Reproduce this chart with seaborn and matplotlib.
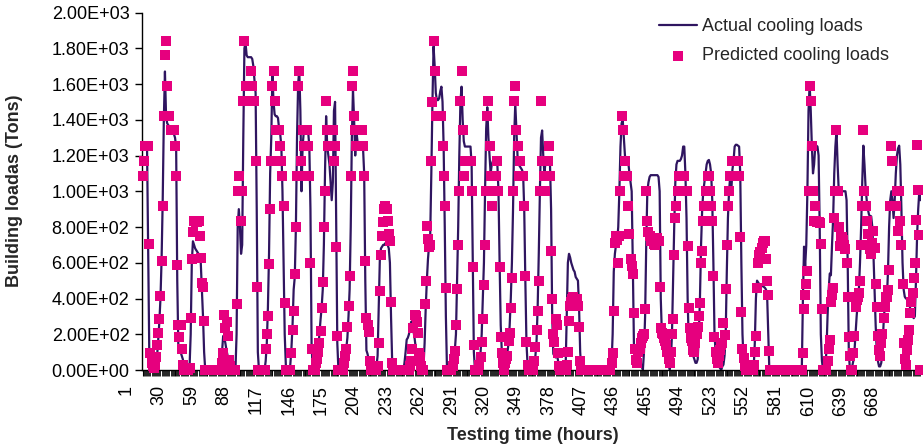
import numpy as np
import pandas as pd
import matplotlib
matplotlib.use("Agg")
import matplotlib.pyplot as plt
import matplotlib.transforms as mtransforms
from matplotlib.ticker import FuncFormatter
import seaborn as sns

N_HOURS = 696
hours = np.arange(1, N_HOURS + 1)

# (first hour, hourly values) ; hours not listed read as 0
actual_segments = [
    (1, [1240, 1250, 1250, 1250, 1250, 700, 100, 90, 60, 30, 10, 10, 40, 80, 170, 270, 400, 620, 950, 1400,
         1670, 1420, 1380, 1370, 1360, 1350, 1340, 1330, 1320, 1300, 1250, 500, 120, 110, 100, 80, 60, 20]),
    (43, [20, 200, 600, 720, 700, 680, 670, 660, 650, 640, 600, 450, 300, 100]),
    (71, [20, 100, 190, 180, 150, 110, 80, 60, 30]),
    (85, [200, 800, 900, 800, 650, 700, 1300, 1800, 1830, 1760, 1750, 1750, 1750, 1750, 1740, 1700, 1620,
          1550, 900, 100]),
    (111, [50, 150, 350, 650, 1100, 1300, 1650, 1500, 1430, 1420, 1420, 1410, 1350, 1320, 1250, 1000, 600,
           200, 30]),
    (133, [30, 120, 250, 450, 520, 800, 1300, 1600, 1680, 1450, 1000, 1250, 1330, 1340, 1340, 1330, 1330,
           1250, 900, 150]),
    (156, [20, 50, 120, 200, 280, 350, 450, 700, 1100, 1420, 1250, 1200, 1150, 1050, 950, 1050, 1450, 1500,
           800, 150]),
    (180, [10, 50, 80, 120, 180, 300, 450, 800, 1300, 1570, 1400, 1200, 1340, 1280, 1260, 1250, 1250, 1250,
           1240, 1100, 500, 110, 90, 60, 30]),
    (210, [20, 80, 350, 620, 680, 690, 700, 700, 710, 710, 700, 680, 600, 300, 50]),
    (235, [40, 100, 170, 180, 200, 240, 270, 250, 220, 180, 130, 100, 60, 30]),
    (252, [20, 150, 350, 500, 620, 700, 750, 1100, 1500, 1810, 1700, 1550, 1510, 1510, 1520, 1560, 1585,
           1500, 1250, 800, 300]),
    (278, [30, 60, 110, 200, 500, 800, 1200, 1500, 1585, 1400, 1280, 1250, 1250, 1250, 1250, 1250, 1250,
           1150, 600, 100]),
    (301, [20, 50, 100, 200, 400, 600, 1000, 1350, 1470, 1300, 1200, 1100, 1150, 1170, 1170, 1170, 1160,
           1150, 1000, 600, 250, 100, 30]),
    (325, [20, 60, 100, 150, 250, 400, 600, 900, 1300, 1490, 1350, 1200, 1150, 1140, 1130, 1120, 1100, 900,
           500, 150, 30]),
    (351, [30, 80, 160, 350, 650, 1000, 1300, 1340, 1200, 1100, 1160, 1170, 1170, 1170, 1160, 900, 300, 90,
           80, 70, 90, 60, 20]),
    (379, [20, 300, 600, 650, 630, 600, 580, 560, 550, 520, 510, 500, 350, 100]),
    (420, [30, 200, 550, 650, 700, 720, 800, 1000, 1250, 1380, 1400, 1300, 1200, 1170, 1150, 1160, 1100,
           1050, 1000, 600, 150, 80, 60, 40, 40, 50, 40, 20, 0, 100, 300, 700, 1000, 1050, 1080, 1090, 1090,
           1090, 1090, 1090, 1090, 1090, 1080, 1000, 400, 200, 180, 150, 120, 100, 60, 30]),
    (473, [50, 200, 500, 800, 1050, 1150, 1170, 1170, 1170, 1180, 1200, 1250, 1250, 1100, 850, 400, 150, 120,
           110, 100, 80, 60, 40, 40, 60, 200, 400, 700, 900, 1000, 1050, 1100, 1150, 1170, 1175, 1150, 1100,
           950, 600, 200, 100, 60, 40, 20, 10]),
    (519, [20, 30, 80, 200, 550, 850, 1000, 1080, 1000, 1120, 1170, 1250, 1260, 1260, 1255, 1250, 1100, 600,
           200, 50, 30, 20]),
    (547, [10, 150, 400, 500, 490, 480, 475, 470, 470, 465, 460, 450, 420, 200]),
    (591, [400, 690, 580, 700, 1000, 1450, 1600, 1450, 1250, 1100, 1150, 1250, 1255, 1250, 1200, 800, 200, 50]),
    (610, [10, 30, 100, 300, 450, 540, 530, 700, 850, 1100, 1250, 1340, 1150, 1003, 990, 990, 1000, 1000,
           1000, 1000, 950, 600, 100]),
    (635, [20, 50, 100, 200, 300, 380, 450, 600, 800, 1050, 1255, 1150, 1020, 950, 900, 870, 860, 860, 800,
           650, 450, 250, 100, 50, 20, 20, 40, 100, 250, 350, 380, 400, 550, 800, 950, 1000, 950, 850, 950,
           1100, 1200, 1240, 1255, 1150, 900, 600, 450, 410, 400, 400, 390, 370, 340, 320, 300, 290, 300, 500,
           750, 900, 1000, 950]),
]

predicted_segments = [
    (1, [1087, 1171, 1255, 1255, 1255, 1255, 703, 93, 40, 20, 10, 30, 75, 140, 205, 283, 416, 610, 920, 1423,
         1760, 1843, 1590, 1423, 1423, 1340, 1340, 1340, 1340, 1255, 1087, 590, 252, 187, 252, 120, 30]),
    (43, [10, 289, 619, 770, 835, 835, 830, 830, 835, 750, 628, 489, 466, 274]),
    (72, [40, 93, 308, 233, 270, 192, 56, 20]),
    (85, [367, 1003, 1087, 1003, 835, 1003, 1507, 1843, 1590, 1507, 1590, 1507, 1590, 1675, 1590, 1507, 1507,
          1171, 466]),
    (111, [115, 200, 302, 591, 900, 1171, 1590, 1675, 1507, 1340, 1340, 1340, 1340, 1255, 1171, 1087, 920, 377]),
    (134, [93, 224, 332, 535, 800, 1087, 1590, 1675, 1087, 1171, 1340, 1255, 1340, 1340, 1340, 1255, 1087, 600,
           115]),
    (156, [40, 60, 99, 150, 218, 345, 494, 800, 1003, 1507, 1340, 1255, 1340, 1255, 1255, 1340, 1171, 1255,
           686, 190]),
    (181, [40, 80, 115, 242, 358, 526, 1087, 1590, 1675, 1423, 1340, 1255, 1340, 1255, 1340, 1255, 1340, 1255,
           1087, 612, 289, 250, 215, 50]),
    (211, [20, 150, 442, 643, 751, 826, 900, 919, 900, 835, 760, 722, 382, 40]),
    (240, [20, 50, 115, 233, 308, 300, 270, 209, 93, 75, 20]),
    (253, [367, 500, 807, 733, 690, 700, 1171, 1500, 1843, 1675, 1423, 1423, 1423, 1423, 1423, 1423, 1255, 1087,
           920, 460]),
    (278, [20, 60, 108, 252, 451, 700, 1003, 1507, 1675, 1340, 1087, 1171, 1171, 1171, 1171, 1171, 1171, 1003,
           578, 140]),
    (302, [30, 75, 155, 283, 476, 700, 1003, 1423, 1507, 1255, 1087, 920, 1003, 1003, 1003, 1087, 1171, 1003,
           578, 183, 93, 40]),
    (325, [40, 60, 80, 160, 205, 345, 517, 1003, 1507, 1590, 1340, 1255, 1087, 1171, 1087, 1087, 1087, 920,
           526, 159, 30]),
    (351, [50, 130, 224, 332, 500, 1003, 1507, 1171, 1171, 1087, 1003, 1087, 1171, 1255, 1087, 668, 400, 200,
           158, 283, 250, 93, 20]),
    (380, [30, 100, 276, 360, 382, 400, 410, 382, 400, 400, 358, 242, 50]),
    (420, [40, 93, 332, 712, 750, 730, 597, 750, 1000, 1423, 1340, 1087, 1171, 1087, 1087, 920, 761, 619, 580,
           535, 317, 120, 56, 40, 100, 120, 150, 180, 190, 200, 340, 1003, 835, 770, 750, 722, 740, 722, 707,
           697, 722, 740, 722, 466, 233, 205, 200, 180, 160, 140, 100, 60, 40]),
    (473, [100, 200, 285, 643, 850, 920, 1003, 1087, 1003, 1087, 1087, 1003, 1087, 1003, 1003, 694, 345, 233,
           180, 160, 110, 100, 150, 200, 240, 300, 373, 600, 668, 835, 920, 1003, 1003, 1087, 1087, 1003, 920,
           835, 526, 187, 100, 60, 40, 80, 110, 140, 149, 261, 196, 451, 700, 920, 1003, 1087, 1087, 1171,
           1171, 1171, 1171, 1171, 1171, 1087, 742, 326, 120, 65, 20]),
    (547, [30, 100, 190, 457, 597, 643, 660, 680, 708, 720, 719, 619, 500, 420, 108]),
    (591, [93, 340, 420, 480, 554, 1003, 1590, 1507, 1255, 1000, 835, 920, 835, 830, 830, 825, 703, 340]),
    (613, [50, 120, 168, 382, 420, 457, 850, 1003, 1340, 1003, 800, 695, 742, 742, 730, 700, 677, 600, 407,
           183, 80]),
    (636, [93, 190, 354, 390, 410, 429, 498, 700, 920, 1340, 1003, 920, 835, 760, 700, 677, 650, 710, 780,
           680, 480, 354, 190, 110, 80, 149, 200, 289, 350, 410, 410, 450, 559, 920, 1255, 1171, 920, 920, 920,
           1003, 779, 1003, 835, 700, 481, 150, 60, 30, 112, 168, 224, 317, 380, 430, 515, 600, 839, 1259, 1007,
           755]),
]

tick_hours = list(range(1, N_HOURS + 1, 29))
tick_labels = [str(h) for h in tick_hours]
y_ticks = list(range(0, 2001, 200))


def build(segments):
    v = np.zeros(N_HOURS)
    for start, vals in segments:
        v[start - 1:start - 1 + len(vals)] = vals[:N_HOURS - start + 1]
    return v


df = pd.DataFrame({"hour": hours,
                   "actual": build(actual_segments),
                   "predicted": build(predicted_segments)})

sns.set_theme(style="white")
plt.rcParams["font.family"] = ["Liberation Sans", "DejaVu Sans"]

W, H = 923, 448
fig = plt.figure(figsize=(W / 100, H / 100), dpi=100)
ax = fig.add_axes([142 / W, 78 / H, 779 / W, 357.5 / H])

sns.lineplot(data=df, x="hour", y="actual", ax=ax, color="#2F1560", linewidth=1.6,
             label="Actual cooling loads", zorder=2)
sns.scatterplot(data=df, x="hour", y="predicted", ax=ax, marker="s", s=46, color="#E6007E",
                linewidth=0, label="Predicted cooling loads", zorder=3, clip_on=False)

ax.set_xlim(0.5, N_HOURS + 0.5)
ax.set_ylim(0, 2000)
ax.set_xlabel("")
ax.set_ylabel("")

ax.set_yticks(y_ticks)
ax.yaxis.set_major_formatter(FuncFormatter(lambda v, p: f"{v:.2E}"))
ax.tick_params(axis="y", which="both", direction="out", length=5, width=1, color="black",
               labelsize=13, pad=4, left=True, labelcolor="black")

ax.set_xticks(tick_hours)
ax.set_xticklabels(tick_labels, rotation=90, va="top", ha="center")
ax.set_xticks(hours, minor=True)
ax.tick_params(axis="x", which="major", direction="out", length=4, width=0.8, color="black",
               labelsize=13, pad=7, bottom=True, labelcolor="black")
ax.tick_params(axis="x", which="minor", direction="out", length=4, width=0.6, color="black", bottom=True)
shift = mtransforms.ScaledTranslation(-16 / 100, 0, fig.dpi_scale_trans)
for lbl in ax.get_xticklabels():
    lbl.set_transform(lbl.get_transform() + shift)

for side in ("top", "right"):
    ax.spines[side].set_visible(False)
for side in ("left", "bottom"):
    ax.spines[side].set_color("black")
    ax.spines[side].set_linewidth(1)

leg = ax.legend(loc="upper left", bbox_to_anchor=(659 / W, 1 - 18 / H), bbox_transform=fig.transFigure,
                frameon=False, fontsize=13, handlelength=2.1, handletextpad=0.3, labelspacing=0.68,
                borderpad=0, borderaxespad=0)

fig.text(15 / W, 1 - 191 / H, "Building loadas (Tons)", rotation=90, ha="center", va="center",
         fontsize=13, fontweight="bold")
fig.text(533 / W, 1 - 435 / H, "Testing time (hours)", ha="center", va="center",
         fontsize=13, fontweight="bold")

fig.savefig("out.png", dpi=100)
